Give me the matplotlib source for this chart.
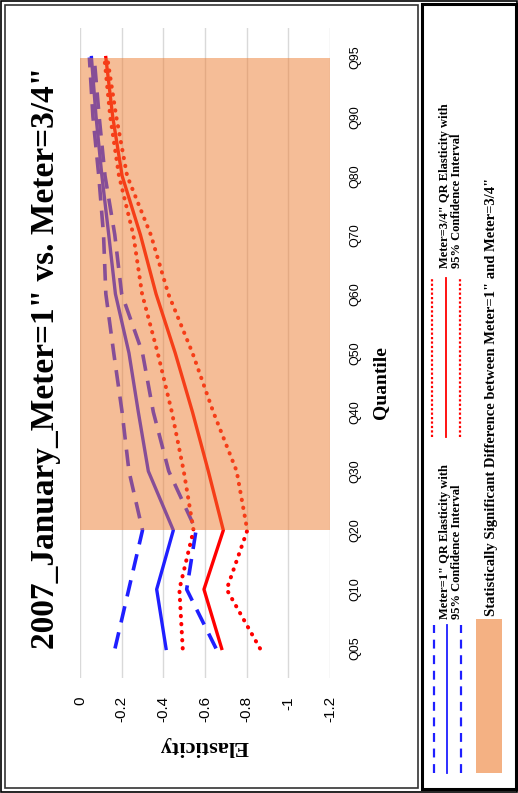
import matplotlib
matplotlib.use("Agg")
import matplotlib.pyplot as plt
from matplotlib.lines import Line2D
from matplotlib.patches import Rectangle

# ---------------- data ----------------
quantiles = ["Q05", "Q10", "Q20", "Q30", "Q40", "Q50", "Q60", "Q70", "Q80", "Q90", "Q95"]

m1_est = [-0.413, -0.368, -0.448, -0.328, -0.280, -0.235, -0.170, -0.138, -0.105, -0.077, -0.055]
m1_lo  = [-0.168, -0.234, -0.300, -0.235, -0.202, -0.162, -0.124, -0.113, -0.090, -0.062, -0.045]
m1_hi  = [-0.653, -0.512, -0.557, -0.426, -0.352, -0.300, -0.200, -0.167, -0.120, -0.092, -0.068]

m34_est = [-0.680, -0.595, -0.688, -0.616, -0.540, -0.457, -0.365, -0.290, -0.202, -0.157, -0.124]
m34_lo  = [-0.493, -0.477, -0.545, -0.498, -0.441, -0.373, -0.298, -0.256, -0.187, -0.145, -0.117]
m34_hi  = [-0.864, -0.704, -0.803, -0.752, -0.640, -0.540, -0.424, -0.340, -0.226, -0.174, -0.131]

elast_ticks = [0, -0.2, -0.4, -0.6, -0.8, -1.0, -1.2]
elast_labels = ["0", "-0.2", "-0.4", "-0.6", "-0.8", "-1", "-1.2"]
sig_start, sig_end = "Q20", "Q95"

title = '2007_January_Meter=1" vs. Meter=3/4"'
leg1 = 'Meter=1" QR Elasticity with\n95% Confidence Interval'
leg2 = 'Meter=3/4" QR Elasticity with\n95% Confidence Interval'
leg3 = 'Statistically Significant Difference between Meter=1" and Meter=3/4"'

# ---------------- figure ----------------
W, H = 518, 793
fig = plt.figure(figsize=(W / 100, H / 100), dpi=100)
serif = "Liberation Serif"
sans = "Liberation Sans"

def fx(px):
    return px / W

def fy(py):
    return 1 - py / H

BLUE = "#1F1FFF"
RED = "#FF0000"
ORANGE = "#ED7D31"

ax = fig.add_axes([fx(80), fy(678), 250 / W, 650 / H])
ypos = list(range(len(quantiles)))
dash = (0, (4.6, 2.8))
dot = (0, (0.1, 1.9))

ax.plot(m1_lo, ypos, color=BLUE, lw=2.6, linestyle=dash, zorder=2)
ax.plot(m1_est, ypos, color=BLUE, lw=2.4, zorder=2)
ax.plot(m1_hi, ypos, color=BLUE, lw=2.6, linestyle=dash, zorder=2)
ax.plot(m34_lo, ypos, color=RED, lw=2.9, linestyle=dot, dash_capstyle="round", zorder=2)
ax.plot(m34_est, ypos, color=RED, lw=2.4, zorder=2)
ax.plot(m34_hi, ypos, color=RED, lw=2.9, linestyle=dot, dash_capstyle="round", zorder=2)

ax.axhspan(quantiles.index(sig_start), quantiles.index(sig_end), color=ORANGE, alpha=0.5, lw=0, zorder=3)

ax.set_xlim(0, -1.2)
ax.set_ylim(-0.5, len(quantiles) - 0.5)
ax.set_xticks(elast_ticks)
ax.set_xticklabels(elast_labels, rotation=90, fontsize=11, family=sans)
ax.grid(axis="x", color="#D9D9D9", lw=1, zorder=1)
ax.set_axisbelow(True)
ax.tick_params(axis="x", length=0, pad=13)
ax.yaxis.tick_right()
ax.set_yticks(ypos)
ax.set_yticklabels(quantiles, rotation=90, fontsize=9, family=sans, va="center")
ax.tick_params(axis="y", length=0, pad=14)
for s in ax.spines.values():
    s.set_visible(False)

fig.text(fx(204), fy(746), "Elasticity", rotation=180, ha="center", va="center",
         fontsize=16, fontweight="bold", family=serif)
fig.text(fx(381), fy(383), "Quantile", rotation=90, ha="center", va="center",
         fontsize=14, fontweight="bold", family=serif)
fig.text(fx(46), fy(358), title, rotation=90, ha="center", va="center",
         fontsize=24, fontweight="bold", family=serif)

# ---------------- frames ----------------
fig.patches.append(Rectangle((fx(0.8), fy(792.2)), fx(516.4), 791.4 / H, transform=fig.transFigure,
                             fill=False, ec="black", lw=1.2))
fig.patches.append(Rectangle((fx(4.5), fy(788)), fx(413.5), 783.5 / H, transform=fig.transFigure,
                             fill=False, ec="#333333", lw=1.2))
fig.patches.append(Rectangle((fx(422), fy(789)), fx(94), 785 / H, transform=fig.transFigure,
                             fill=False, ec="black", lw=2.2))

# ---------------- legend ----------------
def vline(x, y0, y1, **kw):
    fig.add_artist(Line2D([fx(x), fx(x)], [fy(y0), fy(y1)], transform=fig.transFigure, **kw))

vline(434, 773, 625, color=BLUE, lw=1.6, linestyle=(0, (4, 3)))
vline(447, 773, 625, color=BLUE, lw=1.3)
vline(461, 773, 625, color=BLUE, lw=1.6, linestyle=(0, (4, 3)))
vline(432, 437, 278, color=RED, lw=1.6, linestyle=(0, (1, 1)))
vline(446, 437, 278, color=RED, lw=1.3)
vline(460, 437, 278, color=RED, lw=1.6, linestyle=(0, (1, 1)))

fig.patches.append(Rectangle((fx(476), fy(773)), fx(26), 154 / H, transform=fig.transFigure,
                             color=ORANGE, alpha=0.6, lw=0))

fig.text(fx(451), fy(619), leg1, rotation=90, ha="center", va="bottom", multialignment="left",
         fontsize=9, fontweight="bold", family=serif, linespacing=0.95)
fig.text(fx(451), fy(268), leg2, rotation=90, ha="center", va="bottom", multialignment="left",
         fontsize=9, fontweight="bold", family=serif, linespacing=0.95)
fig.text(fx(492), fy(616), leg3, rotation=90, ha="center", va="bottom",
         fontsize=10.5, fontweight="bold", family=serif)

fig.savefig("out.png", dpi=100)
